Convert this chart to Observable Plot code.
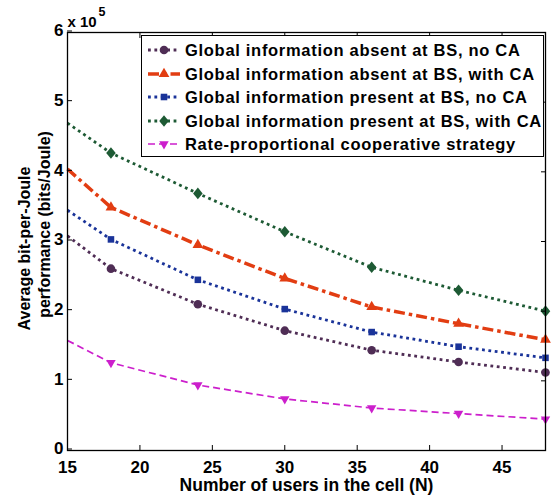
<!DOCTYPE html>
<html><head><meta charset="utf-8">
<script src="https://cdn.jsdelivr.net/npm/d3@7"></script>
<script src="https://cdn.jsdelivr.net/npm/@observablehq/plot@0.6"></script>
<style>
body{margin:0;background:#fff;}
#wrap{position:relative;width:552px;height:500px;font-family:"Liberation Sans",Arial,sans-serif;}
#wrap svg g[aria-label="x-axis tick label"], #wrap svg g[aria-label="x-axis tick label"] text,
#wrap svg g[aria-label="y-axis tick label"], #wrap svg g[aria-label="y-axis tick label"] text{font-size:17px;font-weight:bold;}
#legend{position:absolute;left:141px;top:35px;width:403px;height:122px;border:1px solid #000;background:#fff;box-sizing:border-box;}
.lrow{position:absolute;left:0;height:24px;width:100%;}
.lrow svg{position:absolute;left:5px;top:0;}
.lrow span{position:absolute;left:43px;top:0;line-height:24px;font-weight:bold;font-size:16.5px;letter-spacing:0.7px;white-space:nowrap;color:#000;}
</style></head><body><div id="wrap"></div>
<script>
// ---- data ----
const N = [15, 18, 24, 30, 36, 42, 48];
const absentNoCA  = [3.08e5, 2.61e5, 2.10e5, 1.72e5, 1.44e5, 1.27e5, 1.12e5];
const absentCA    = [4.04e5, 3.49e5, 2.95e5, 2.47e5, 2.06e5, 1.82e5, 1.59e5];
const presentNoCA = [3.45e5, 3.03e5, 2.45e5, 2.03e5, 1.70e5, 1.49e5, 1.33e5];
const presentCA   = [4.70e5, 4.27e5, 3.69e5, 3.14e5, 2.63e5, 2.30e5, 2.00e5];
const rateProp    = [1.58e5, 1.26e5, 0.94e5, 0.74e5, 0.61e5, 0.53e5, 0.45e5];
const seriesNames = [
  "Global information absent at BS, no CA",
  "Global information absent at BS, with CA",
  "Global information present at BS, no CA",
  "Global information present at BS, with CA",
  "Rate-proportional cooperative strategy"
];
const xTicks = [15, 20, 25, 30, 35, 40, 45];
const yTicks = [0, 1e5, 2e5, 3e5, 4e5, 5e5, 6e5];
const xLabel = "Number of users in the cell (N)";
const yLabel1 = "Average bit-per-Joule";
const yLabel2 = "performance (bits/Joule)";

// ---- styles ----
const seriesValues = [absentNoCA, absentCA, presentNoCA, presentCA, rateProp];
const seriesColors = ["#4f2d55", "#e23d12", "#1a3399", "#1d5a34", "#cc1fcc"];
const lineStyles = [
  {strokeWidth: 2.8, strokeDasharray: "2.8,3.6"},
  {strokeWidth: 3.5, strokeDasharray: "11,4,3.5,4"},
  {strokeWidth: 2.8, strokeDasharray: "2.8,3.6"},
  {strokeWidth: 2.8, strokeDasharray: "2.8,3.6"},
  {strokeWidth: 1.7, strokeDasharray: "7,4"}
];
const sqrt3 = Math.sqrt(3);
const triangleDown = {draw(context, size) {
  const y = -Math.sqrt(size / (sqrt3 * 3));
  context.moveTo(0, -y * 2);
  context.lineTo(-sqrt3 * y, y);
  context.lineTo(sqrt3 * y, y);
  context.closePath();
}};
const diamondWide = {draw(context, size) {
  const hh = Math.sqrt(size / (2 * 0.82)), hw = hh * 0.82;
  context.moveTo(0, -hh);
  context.lineTo(hw, 0);
  context.lineTo(0, hh);
  context.lineTo(-hw, 0);
  context.closePath();
}};
const markerSymbols = [d3.symbolCircle, d3.symbolTriangle, d3.symbolSquare, diamondWide, triangleDown];
const markerR = [4.3, 4, 3.7, 4.2, 3.5];

const rows = seriesNames.flatMap((s, i) => N.map((n, j) => ({series: s, N: n, value: seriesValues[i][j]})));

const marks = [];
seriesNames.forEach((s, i) => {
  const d = rows.filter(r => r.series === s);
  marks.push(Plot.line(d, {x: "N", y: "value", stroke: seriesColors[i], ...lineStyles[i], strokeLinecap: "butt", strokeLinejoin: "miter"}));
  marks.push(Plot.dot(d.filter(r => r.N > 15), {x: "N", y: "value", symbol: markerSymbols[i], r: markerR[i], fill: seriesColors[i], stroke: "none"}));
});

const chart = Plot.plot({
  width: 552, height: 500,
  marginLeft: 67, marginRight: 7, marginTop: 32, marginBottom: 50,
  style: {fontFamily: "'Liberation Sans', Arial, sans-serif", fontWeight: "bold", fontSize: "16px", color: "#000", background: "#fff"},
  x: {domain: [15, 48]},
  y: {domain: [0, 6e5]},
  marks: [
    ...marks,
    Plot.frame({stroke: "#000", strokeWidth: 1.3}),
    Plot.axisX({ticks: xTicks, tickSize: -5, tickPadding: 15, tickFormat: d => String(d), label: null}),
    Plot.axisX({anchor: "top", ticks: xTicks, tickSize: -5, tickFormat: () => "", label: null}),
    Plot.axisY({ticks: yTicks, tickSize: -5, tickPadding: 9, dy: -1.5, tickFormat: d => String(d / 1e5), label: null}),
    Plot.axisY({anchor: "right", ticks: yTicks, tickSize: -5, tickFormat: () => "", label: null}),
    Plot.text([xLabel], {frameAnchor: "bottom", dy: 35, fontSize: 17.5, fontWeight: "bold", lineAnchor: "middle"}),
    Plot.text([yLabel1], {frameAnchor: "left", textAnchor: "middle", dx: -43, dy: 7, rotate: -90, fontSize: 16, fontWeight: "bold", lineAnchor: "middle"}),
    Plot.text([yLabel2], {frameAnchor: "left", textAnchor: "middle", dx: -23, dy: -17, rotate: -90, fontSize: 16, fontWeight: "bold", lineAnchor: "middle"}),
    Plot.text(["x 10"], {frameAnchor: "top-left", textAnchor: "start", lineAnchor: "bottom", dy: -6, fontSize: 15, fontWeight: "bold"}),
    Plot.text(["5"], {frameAnchor: "top-left", textAnchor: "start", lineAnchor: "bottom", dx: 31, dy: -17, fontSize: 12.5, fontWeight: "bold"})
  ]
});
const wrap = document.getElementById("wrap");
wrap.appendChild(chart);

// legend overlay
const legend = document.createElement("div");
legend.id = "legend";
seriesNames.forEach((s, i) => {
  const row = document.createElement("div");
  row.className = "lrow";
  row.style.top = (2 + i * 23.6) + "px";
  const svg = d3.create("svg").attr("width", 34).attr("height", 24);
  svg.append("line").attr("x1", 1).attr("x2", 33).attr("y1", 12).attr("y2", 12)
    .attr("stroke", seriesColors[i]).attr("stroke-width", lineStyles[i].strokeWidth)
    .attr("stroke-dasharray", lineStyles[i].strokeDasharray).attr("stroke-linecap", "butt");
  svg.append("path").attr("transform", "translate(17,12)")
    .attr("d", d3.symbol(markerSymbols[i], markerR[i] * markerR[i] * Math.PI)())
    .attr("fill", seriesColors[i]);
  row.appendChild(svg.node());
  const span = document.createElement("span");
  span.textContent = s;
  row.appendChild(span);
  legend.appendChild(row);
});
wrap.appendChild(legend);
</script>
</body></html>
